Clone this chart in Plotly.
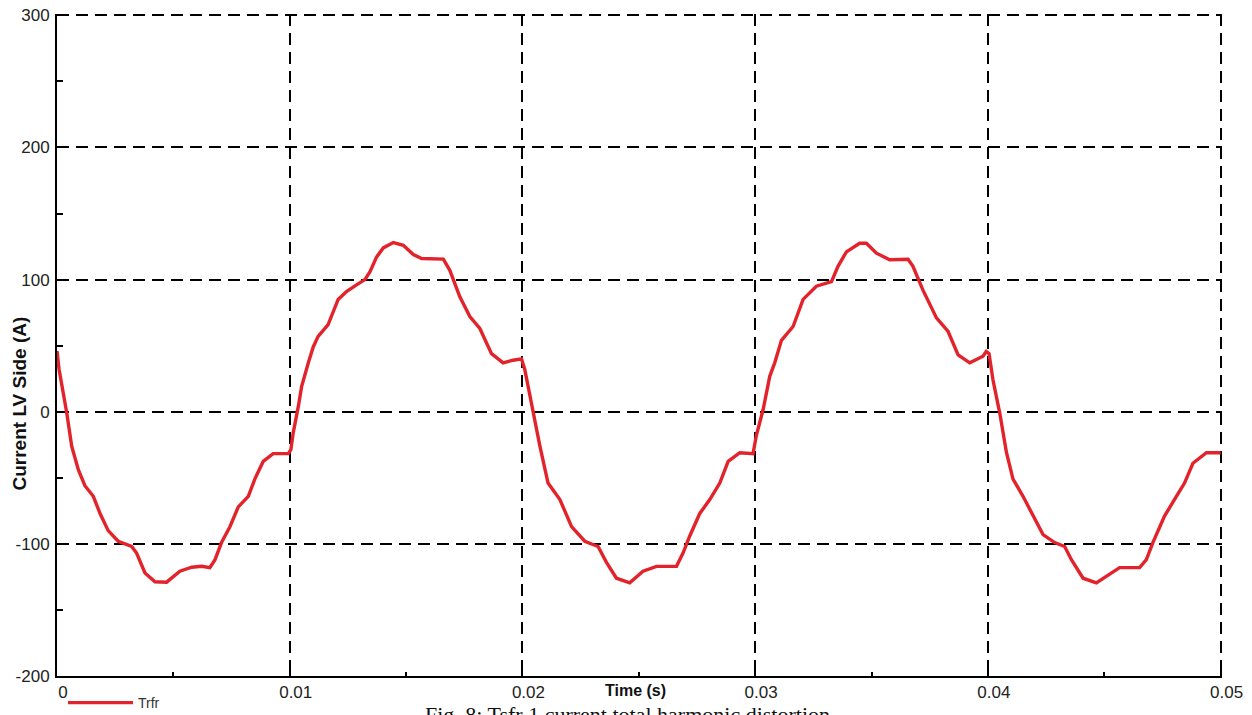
import plotly.graph_objects as go

# Time (s)
time_s = [
    0.00000, 0.00009, 0.00042, 0.00063, 0.00092, 0.00120, 0.00156, 0.00185, 0.00220, 0.00263,
    0.00321, 0.00342, 0.00378, 0.00421, 0.00471, 0.00528, 0.00579, 0.00622, 0.00657, 0.00679,
    0.00707, 0.00743, 0.00779, 0.00822, 0.00850, 0.00886, 0.00929, 0.00994, 0.01005, 0.01015,
    0.01037, 0.01051, 0.01080, 0.01101, 0.01122, 0.01165, 0.01208, 0.01244, 0.01287, 0.01323,
    0.01345, 0.01373, 0.01402, 0.01445, 0.01488, 0.01531, 0.01567, 0.01660, 0.01688, 0.01731,
    0.01774, 0.01817, 0.01867, 0.01917, 0.01960, 0.01996, 0.02010, 0.02046, 0.02075, 0.02110,
    0.02161, 0.02211, 0.02268, 0.02325, 0.02361, 0.02404, 0.02461, 0.02518, 0.02576, 0.02662,
    0.02690, 0.02719, 0.02762, 0.02805, 0.02848, 0.02884, 0.02934, 0.02991, 0.03005, 0.03034,
    0.03063, 0.03084, 0.03113, 0.03163, 0.03206, 0.03263, 0.03328, 0.03356, 0.03392, 0.03449,
    0.03478, 0.03521, 0.03578, 0.03657, 0.03678, 0.03721, 0.03779, 0.03829, 0.03872, 0.03922,
    0.03979, 0.03993, 0.04005, 0.04022, 0.04051, 0.04080, 0.04108, 0.04151, 0.04194, 0.04237,
    0.04287, 0.04330, 0.04359, 0.04409, 0.04466, 0.04509, 0.04566, 0.04652, 0.04681, 0.04709,
    0.04759, 0.04810, 0.04845, 0.04881, 0.04939, 0.05000,
]

# Current LV side (A)
current_a = [
    46, 32, -1, -26, -44, -56, -64, -77, -90, -98,
    -102, -107, -122, -128.7, -129, -120.7, -117.7, -117, -118, -112,
    -99, -87, -72, -64, -51, -37.6, -31.7, -31.7, -28.7, -16,
    4, 19, 37, 49, 57, 66, 85, 91, 96, 100,
    106, 117, 124, 128, 126, 119, 116, 115.5, 107, 87,
    72, 63, 44, 37, 39, 40, 32, -1, -26, -54,
    -66.5, -87, -98, -102, -114, -126, -129.5, -120.7, -117, -117,
    -107, -94, -77, -66.5, -54, -37.6, -31, -31.7, -18, 1.5,
    27, 37, 54, 64.5, 85, 95, 98.5, 110, 121, 127.5,
    127.5, 120, 115, 115.4, 110, 92, 71, 60.7, 43, 37,
    42, 45.6, 44, 24, -1, -31, -51, -64, -79, -93,
    -99, -102, -112, -126, -129.5, -124.5, -118, -118, -112, -99,
    -79, -64, -54, -39, -31, -31,
]

x_ticks = [0, 0.01, 0.02, 0.03, 0.04, 0.05]
x_tick_text = ["0", "0.01", "0.02", "0.03", "0.04", "0.05"]
y_ticks = [-200, -100, 0, 100, 200, 300]
y_tick_text = ["-200", "-100", "0", "100", "200", "300"]

series_name = "Trfr"
x_title = "Time (s)"
y_title = "Current LV Side (A)"
caption = "Fig. 8: Tsfr 1 current total harmonic distortion"

# page body has an 8px default margin -> figure sized/placed to compensate
OFF = 8
W, H = 1252 - OFF, 715 - OFF
ML, MR, MT, MB = 49, 30, 6, 39
PW, PH = W - ML - MR, H - MT - MB

def px_x(p):  # window pixel -> paper x
    return (p - OFF - ML) / PW

def px_y(p):  # window pixel -> paper y
    return (H - MB - (p - OFF)) / PH

fig = go.Figure()
fig.add_trace(go.Scatter(
    x=time_s, y=current_a, mode="lines", name=series_name,
    line=dict(color="#e3232b", width=3.4),
))

tick_font = dict(family="Liberation Sans, Arial, sans-serif", size=17, color="#222222")
grid_style = dict(showgrid=True, gridcolor="black", gridwidth=1.5, griddash="12px,7px")

fig.update_layout(
    width=W, height=H,
    margin=dict(l=ML, r=MR, t=MT, b=MB, autoexpand=False),
    paper_bgcolor="white", plot_bgcolor="white",
    showlegend=True,
    legend=dict(
        orientation="h", x=px_x(63), xanchor="left", y=px_y(687), yanchor="top",
        font=dict(family="Liberation Sans, Arial, sans-serif", size=14, color="#333333"),
        bgcolor="rgba(0,0,0,0)", itemwidth=65,
    ),
    xaxis=dict(
        range=[0, 0.05006], tickmode="array", tickvals=x_ticks, ticktext=x_tick_text,
        showline=True, linecolor="black", linewidth=2, mirror=False,
        zeroline=False, **grid_style,
        ticks="inside", ticklen=5, tickcolor="black", tickwidth=1.5,
        minor=dict(dtick=0.005, ticks="inside", ticklen=4, tickcolor="black", tickwidth=1.5, showgrid=False),
        tickfont=tick_font, ticklabelshift=6, ticklabelstandoff=0, ticklabeloverflow="allow",
    ),
    yaxis=dict(
        range=[-200, 301], tickmode="array", tickvals=y_ticks, ticktext=y_tick_text,
        showline=True, linecolor="black", linewidth=2, mirror=False,
        zeroline=False, **grid_style,
        ticks="inside", ticklen=6, tickcolor="black", tickwidth=1.5,
        minor=dict(dtick=50, ticks="inside", ticklen=6, tickcolor="black", tickwidth=1.5, showgrid=False),
        tickfont=tick_font, ticklabelstandoff=2, ticklabeloverflow="allow",
    ),
    annotations=[
        dict(text=f"<b>{x_title}</b>", xref="paper", yref="paper",
             x=px_x(635), y=px_y(690), xanchor="center", yanchor="middle", showarrow=False,
             font=dict(family="Liberation Sans, Arial, sans-serif", size=16, color="#111111")),
        dict(text=f"<b>{y_title}</b>", xref="paper", yref="paper",
             x=px_x(18.5), y=px_y(404), xanchor="center", yanchor="middle", showarrow=False,
             textangle=-90,
             font=dict(family="Liberation Sans, Arial, sans-serif", size=19, color="#111111")),
        dict(text=caption, xref="paper", yref="paper",
             x=px_x(423), y=px_y(700), xanchor="left", yanchor="top", showarrow=False,
             font=dict(family="Liberation Serif, Times New Roman, serif", size=22, color="#111111")),
    ],
)

fig.write_html("out.html")
